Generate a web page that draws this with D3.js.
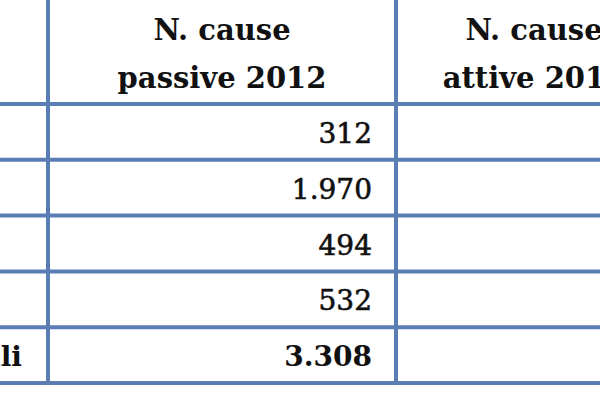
<!DOCTYPE html>
<html><head><meta charset="utf-8">
<script src="https://cdn.jsdelivr.net/npm/d3@7"></script>
<style>body{margin:0;background:#fff}</style></head>
<body><svg id="c" width="600" height="400"></svg>
<script>
const headers = [["N. cause","passive 2012"],["N. cause","attive 2012"]];
const rowLabels = ["","","","","Totali"];
const passive = [312, 1970, 494, 532, 3308];
const boldRow = [false,false,false,false,true];

const svg = d3.select("#c");
const col = "#5a7db4";
const font = "'DejaVu Serif', serif";
const x = d3.scaleLinear().domain([0,1,2]).range([48,396,672]);
const y = d3.scaleBand().domain(d3.range(passive.length)).range([104,383]).padding(0);
const fmt = v => d3.format(",")(v).replace(/,/g,".");

headers.forEach((h,i)=>{
  h.forEach((t,j)=>{
    svg.append("text").attr("x",(x(i)+x(i+1))/2).attr("y",40+j*48)
      .attr("text-anchor","middle").attr("font-family",font).attr("font-weight","bold")
      .attr("font-size",29).attr("fill","#111").text(t);
  });
});
svg.selectAll("text.v").data(passive).join("text").attr("class","v")
  .attr("x",372).attr("y",(d,i)=>y(i)+y.bandwidth()/2+11)
  .attr("text-anchor","end").attr("font-family",font)
  .attr("font-weight",(d,i)=>boldRow[i]?"bold":"normal")
  .attr("stroke","#111").attr("stroke-width",(d,i)=>boldRow[i]?0:0.6)
  .attr("font-size",28).attr("fill","#111").text(fmt);
svg.selectAll("text.l").data(rowLabels).join("text").attr("class","l")
  .attr("x",22).attr("y",(d,i)=>y(i)+y.bandwidth()/2+11)
  .attr("text-anchor","end").attr("font-family",font).attr("font-weight","bold")
  .attr("font-size",28).attr("fill","#111").text(d=>d);
const hs = [y(0), ...passive.map((d,i)=>y(i)+y.bandwidth())];
svg.selectAll("line.h").data(hs).join("line").attr("class","h")
  .attr("x1",0).attr("x2",600).attr("y1",d=>d).attr("y2",d=>d)
  .attr("stroke",col).attr("stroke-width",4);
svg.selectAll("line.vv").data([x(0),x(1)]).join("line").attr("class","vv")
  .attr("x1",d=>d).attr("x2",d=>d).attr("y1",0).attr("y2",hs[hs.length-1]+2)
  .attr("stroke",col).attr("stroke-width",4);
</script></body></html>
